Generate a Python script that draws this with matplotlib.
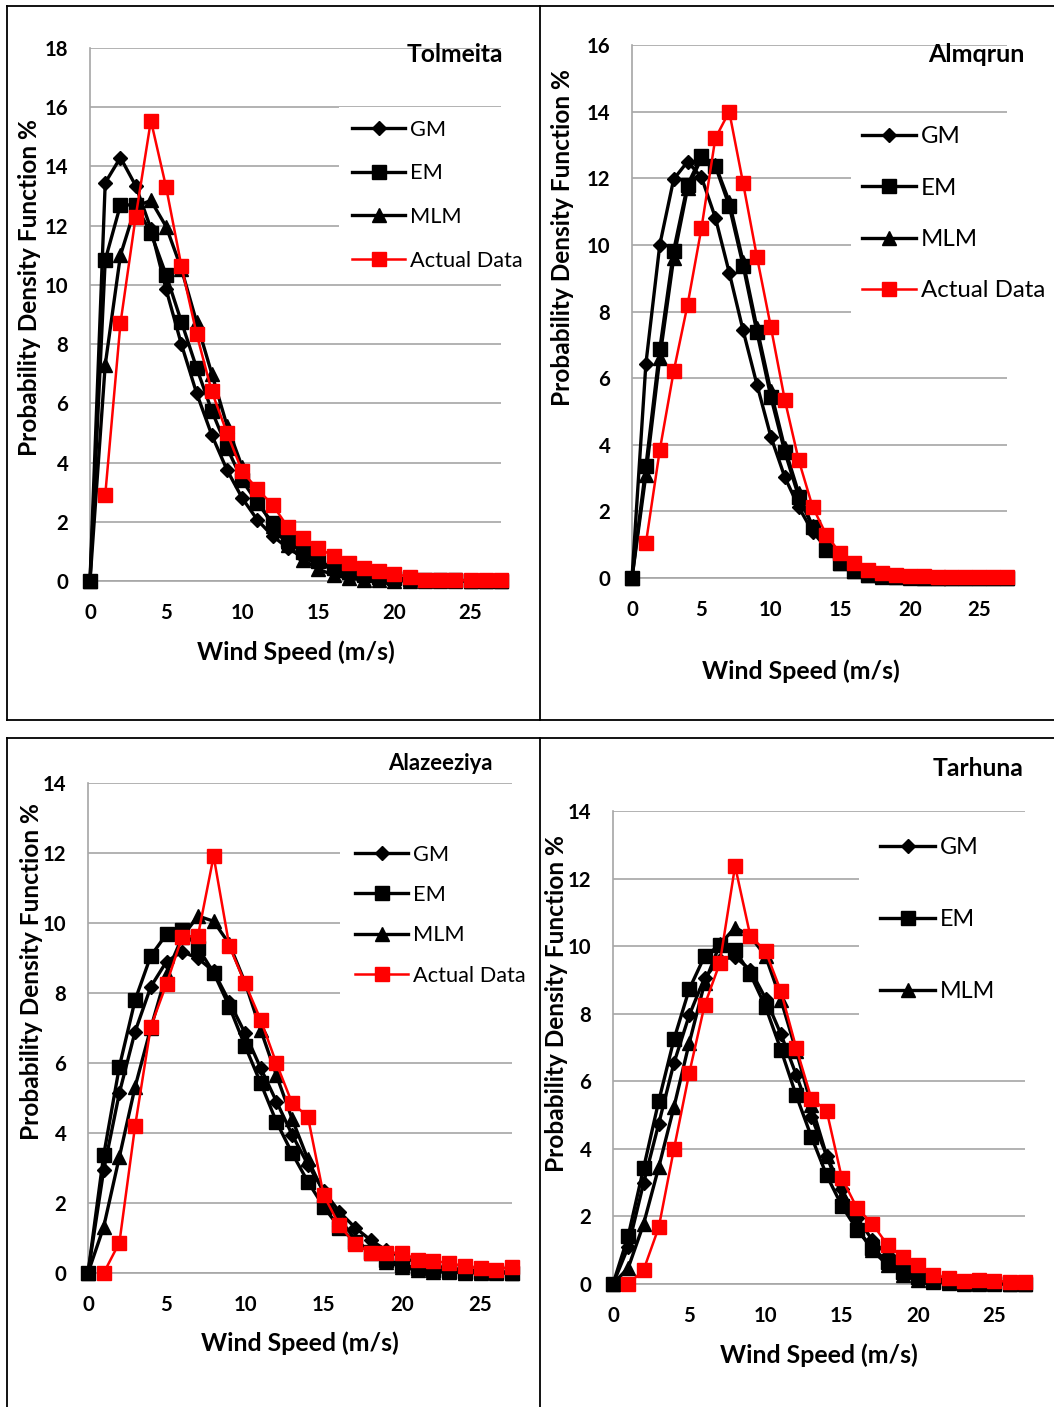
import matplotlib
matplotlib.use("Agg")
import matplotlib.pyplot as plt
from matplotlib.lines import Line2D
from matplotlib.font_manager import FontProperties

W, H = 1054, 1407
FONT = ['Lato', 'DejaVu Sans']
plt.rcParams['font.family'] = FONT

# ---------------- data ----------------
x_model = list(range(0, 28))
x_actual = list(range(1, 28))
series_names = ['GM', 'EM', 'MLM', 'Actual Data']
x_ticks = [0, 5, 10, 15, 20, 25]

# Tolmeita
tol_gm = [0, 13.45, 14.3, 13.35, 11.9, 9.85, 8.0, 6.35, 4.93, 3.75, 2.8, 2.06, 1.52, 1.11,
          0.8, 0.57, 0.4, 0.28, 0.19, 0.13, 0.09, 0.06, 0.04, 0.03, 0.02, 0.01, 0.01, 0.0]
tol_em = [0, 10.84, 12.7, 12.7, 11.75, 10.34, 8.76, 7.2, 5.75, 4.5, 3.4, 2.63, 1.96, 1.4,
          0.97, 0.67, 0.45, 0.3, 0.2, 0.13, 0.09, 0.06, 0.04, 0.03, 0.02, 0.01, 0.01, 0.0]
tol_mlm = [0, 7.3, 11.0, 12.65, 12.85, 11.97, 10.55, 8.75, 7.0, 5.25, 3.85, 2.75, 1.85, 1.2,
           0.72, 0.4, 0.2, 0.09, 0.04, 0.02, 0.01, 0, 0, 0, 0, 0, 0, 0]
tol_act = [2.9, 8.7, 12.3, 15.55, 13.3, 10.65, 8.35, 6.4, 5.0, 3.7, 3.1, 2.57, 1.82, 1.45,
           1.11, 0.84, 0.6, 0.44, 0.34, 0.24, 0.14, 0.05, 0.03, 0.02, 0.02, 0.02, 0.02]

# Almqrun
alm_gm = [0, 6.43, 10.0, 11.97, 12.5, 12.03, 10.82, 9.17, 7.43, 5.8, 4.24, 3.03, 2.13, 1.39,
          0.9, 0.55, 0.33, 0.19, 0.1, 0.05, 0.03, 0.02, 0.01, 0.01, 0, 0, 0, 0]
alm_em = [0, 3.35, 6.87, 9.83, 11.8, 12.67, 12.37, 11.17, 9.38, 7.37, 5.43, 3.79, 2.44, 1.54,
          0.84, 0.45, 0.2, 0.1, 0.05, 0.03, 0.02, 0.01, 0.01, 0, 0, 0, 0, 0]
alm_mlm = [0, 3.1, 6.6, 9.6, 11.7, 12.6, 12.4, 11.3, 9.5, 7.5, 5.6, 3.9, 2.55, 1.55,
           0.88, 0.46, 0.22, 0.1, 0.04, 0.02, 0.01, 0, 0, 0, 0, 0, 0, 0]
alm_act = [1.04, 3.84, 6.2, 8.2, 10.5, 13.2, 14.0, 11.85, 9.63, 7.53, 5.35, 3.54, 2.14, 1.29,
           0.74, 0.44, 0.24, 0.14, 0.09, 0.07, 0.05, 0.04, 0.03, 0.03, 0.02, 0.02, 0.02]

# Alazeeziya
alz_gm = [0, 2.94, 5.15, 6.9, 8.18, 8.9, 9.18, 8.99, 8.62, 7.75, 6.85, 5.85, 4.9, 3.95,
          3.1, 2.35, 1.75, 1.3, 0.94, 0.65, 0.45, 0.3, 0.2, 0.14, 0.09, 0.06, 0.04, 0.02]
alz_em = [0, 3.37, 5.9, 7.8, 9.06, 9.68, 9.8, 9.3, 8.58, 7.61, 6.49, 5.42, 4.32, 3.42,
          2.61, 1.9, 1.3, 0.9, 0.6, 0.38, 0.23, 0.14, 0.09, 0.06, 0.04, 0.03, 0.02, 0.01]
alz_mlm = [0, 1.32, 3.32, 5.32, 7.0, 8.55, 9.6, 10.2, 10.05, 9.4, 8.3, 6.94, 5.65, 4.4,
           3.25, 2.3, 1.55, 0.98, 0.58, 0.32, 0.17, 0.08, 0.04, 0.02, 0.01, 0, 0, 0]
alz_act = [0.0, 0.87, 4.2, 7.04, 8.26, 9.61, 9.63, 11.91, 9.34, 8.28, 7.23, 5.99, 4.85, 4.47,
           2.23, 1.37, 0.83, 0.58, 0.58, 0.58, 0.37, 0.35, 0.28, 0.2, 0.13, 0.1, 0.18]

# Tarhuna
tar_gm = [0, 1.1, 2.98, 4.75, 6.55, 7.96, 9.06, 9.6, 9.68, 9.3, 8.45, 7.4, 6.2, 4.95,
          3.8, 2.8, 1.95, 1.3, 0.85, 0.52, 0.3, 0.17, 0.09, 0.05, 0.03, 0.01, 0.01, 0]
tar_em = [0, 1.43, 3.42, 5.42, 7.25, 8.73, 9.7, 10.03, 9.88, 9.17, 8.2, 6.94, 5.59, 4.36,
          3.22, 2.31, 1.6, 1.06, 0.66, 0.36, 0.2, 0.1, 0.06, 0.04, 0.03, 0.02, 0.01, 0.01]
tar_mlm = [0, 0.48, 1.77, 3.46, 5.25, 7.14, 8.9, 10.05, 10.55, 10.3, 9.7, 8.42, 6.9, 5.3,
           3.8, 2.6, 1.65, 1.0, 0.55, 0.28, 0.13, 0.06, 0.03, 0.01, 0, 0, 0, 0]
tar_act = [0.0, 0.41, 1.68, 4.01, 6.25, 8.25, 9.5, 12.37, 10.3, 9.85, 8.67, 7.0, 5.49, 5.13,
           3.13, 2.24, 1.78, 1.15, 0.79, 0.56, 0.27, 0.17, 0.1, 0.12, 0.09, 0.07, 0.06]

titles = ['Tolmeita', 'Almqrun', 'Alazeeziya', 'Tarhuna']
y_label = 'Probability Density Function %'
x_label = 'Wind Speed (m/s)'
y_max = [18, 16, 14, 14]

# ---------------- layout (pixels) ----------------
fig = plt.figure(figsize=(W / 100, H / 100), dpi=100)
renderer = fig.canvas.get_renderer()


def fx(px):
    return px / W


def fy(py):
    return 1 - py / H


def rect(x0, y0, x1, y1):
    return [x0 / W, 1 - y1 / H, (x1 - x0) / W, (y1 - y0) / H]


def fit(s, target, weight='normal', base=12.0):
    t = fig.text(0, 0, s, fontsize=base, fontweight=weight)
    w = t.get_window_extent(renderer).width
    t.remove()
    return base * target / w


panels = [
    dict(box=(90, 48, 501, 581), data=(tol_gm, tol_em, tol_mlm, tol_act),
         title_xy=(455, 55), title_w=96, ylab_xy=(30, 288), xlab_xy=(296, 652),
         leg=dict(x0=352, ylist=[128, 172, 216, 259], linelen=53, gap=5,
                  fit_txt='Actual Data', fit_w=112, pad=13, right=532)),
    dict(box=(632, 45, 1007, 578), data=(alm_gm, alm_em, alm_mlm, alm_act),
         title_xy=(976, 55), title_w=96, ylab_xy=(563, 237), xlab_xy=(801, 671),
         leg=dict(x0=862, ylist=[135, 186, 237, 289], linelen=54, gap=5,
                  fit_txt='Actual Data', fit_w=124, pad=11.5, right=1054)),
    dict(box=(88, 783, 512, 1273), data=(alz_gm, alz_em, alz_mlm, alz_act),
         title_xy=(440, 763), title_w=104, ylab_xy=(32, 972), xlab_xy=(300, 1343),
         leg=dict(x0=355, ylist=[853, 893, 933, 974], linelen=53, gap=5,
                  fit_txt='Actual Data', fit_w=112, pad=15, right=535)),
    dict(box=(613, 811, 1025, 1284), data=(tar_gm, tar_em, tar_mlm, tar_act),
         title_xy=(978, 768), title_w=91, ylab_xy=(556, 1004), xlab_xy=(819, 1355),
         leg=dict(x0=880, ylist=[846, 918, 990], linelen=55, gap=5,
                  fit_txt='MLM', fit_w=55, pad=21, right=1040)),
]

GRID = '#a6a6a6'
tick_fs = fit('18', 23.5, 'bold')
xlab_fs = fit(x_label, 198, 'bold')
ylab_fs = fit(y_label, 335, 'bold')

for i, p in enumerate(panels):
    gm, em, mlm, act = p['data']
    ax = fig.add_axes(rect(*p['box']))
    ax.plot(x_model, gm, color='black', lw=2.4, marker='D', ms=7.2,
            label=series_names[0], clip_on=False, zorder=3)
    ax.plot(x_model, em, color='black', lw=2.4, marker='s', ms=9.5,
            label=series_names[1], clip_on=False, zorder=3)
    ax.plot(x_model, mlm, color='black', lw=2.4, marker='^', ms=10,
            label=series_names[2], clip_on=False, zorder=3)
    ax.plot(x_actual, act, color='#ff0000', lw=1.8, marker='s', ms=10,
            label=series_names[3], clip_on=False, zorder=4)
    ax.set_xlim(0, 27)
    ax.set_ylim(0, y_max[i])
    ax.set_yticks(list(range(0, y_max[i] + 1, 2)))
    ax.set_xticks(x_ticks)
    ax.grid(axis='y', color=GRID, lw=1.2)
    ax.grid(axis='x', visible=False)
    ax.set_axisbelow(True)
    for s in ['top', 'right']:
        ax.spines[s].set_visible(False)
    for s in ['left', 'bottom']:
        ax.spines[s].set_color(GRID)
        ax.spines[s].set_linewidth(1.2)
    ax.tick_params(length=0, pad=15.5, labelsize=tick_fs)
    for lbl in ax.get_xticklabels() + ax.get_yticklabels():
        lbl.set_fontweight('bold')

    # legend (white box hides the gridlines behind it, as in the source)
    lg = p['leg']
    fs = fit(lg['fit_txt'], lg['fit_w'])
    fs_px = fs * 100 / 72
    _, th, td = renderer.get_text_width_height_descent(
        'lp', FontProperties(family=FONT, size=fs), ismath=False)
    pitch = (lg['ylist'][-1] - lg['ylist'][0]) / (len(lg['ylist']) - 1)
    top_row = lg['ylist'][0] - ((th - td) - 0.35 * fs_px)
    left = lg['x0'] - lg['pad']
    top = top_row - lg['pad']
    handles, labels = ax.get_legend_handles_labels()
    n = len(lg['ylist'])
    leg = ax.legend(handles[:n], labels[:n], loc='upper left', mode='expand',
                    bbox_to_anchor=(fx(left), fy(top) - 0.3, fx(lg['right']) - fx(left), 0.3),
                    bbox_transform=fig.transFigure, borderaxespad=0,
                    borderpad=lg['pad'] / fs_px, labelspacing=(pitch - th) / fs_px,
                    handlelength=lg['linelen'] / fs_px, handletextpad=lg['gap'] / fs_px,
                    fontsize=fs, frameon=True, fancybox=False, framealpha=1,
                    facecolor='white', edgecolor='none', numpoints=1)
    leg.get_frame().set_linewidth(0)

    # texts
    fig.text(fx(p['title_xy'][0]), fy(p['title_xy'][1]), titles[i], ha='center', va='center',
             fontsize=fit(titles[i], p['title_w'], 'bold'), fontweight='bold')
    fig.text(fx(p['ylab_xy'][0]), fy(p['ylab_xy'][1]), y_label, ha='center', va='center',
             rotation=90, fontsize=ylab_fs, fontweight='bold')
    fig.text(fx(p['xlab_xy'][0]), fy(p['xlab_xy'][1]), x_label, ha='center', va='center',
             fontsize=xlab_fs, fontweight='bold')

# panel frames
frame_lines = [
    ((7, 6), (1054, 6)), ((7, 6), (7, 720)), ((7, 720), (1054, 720)), ((540, 6), (540, 720)),
    ((7, 738), (1054, 738)), ((7, 738), (7, 1407)), ((540, 738), (540, 1407)),
]
for (a, b) in frame_lines:
    fig.add_artist(Line2D([fx(a[0]), fx(b[0])], [fy(a[1]), fy(b[1])],
                          transform=fig.transFigure, color='black', lw=1.3, zorder=10))

fig.savefig('out.png', dpi=100)
